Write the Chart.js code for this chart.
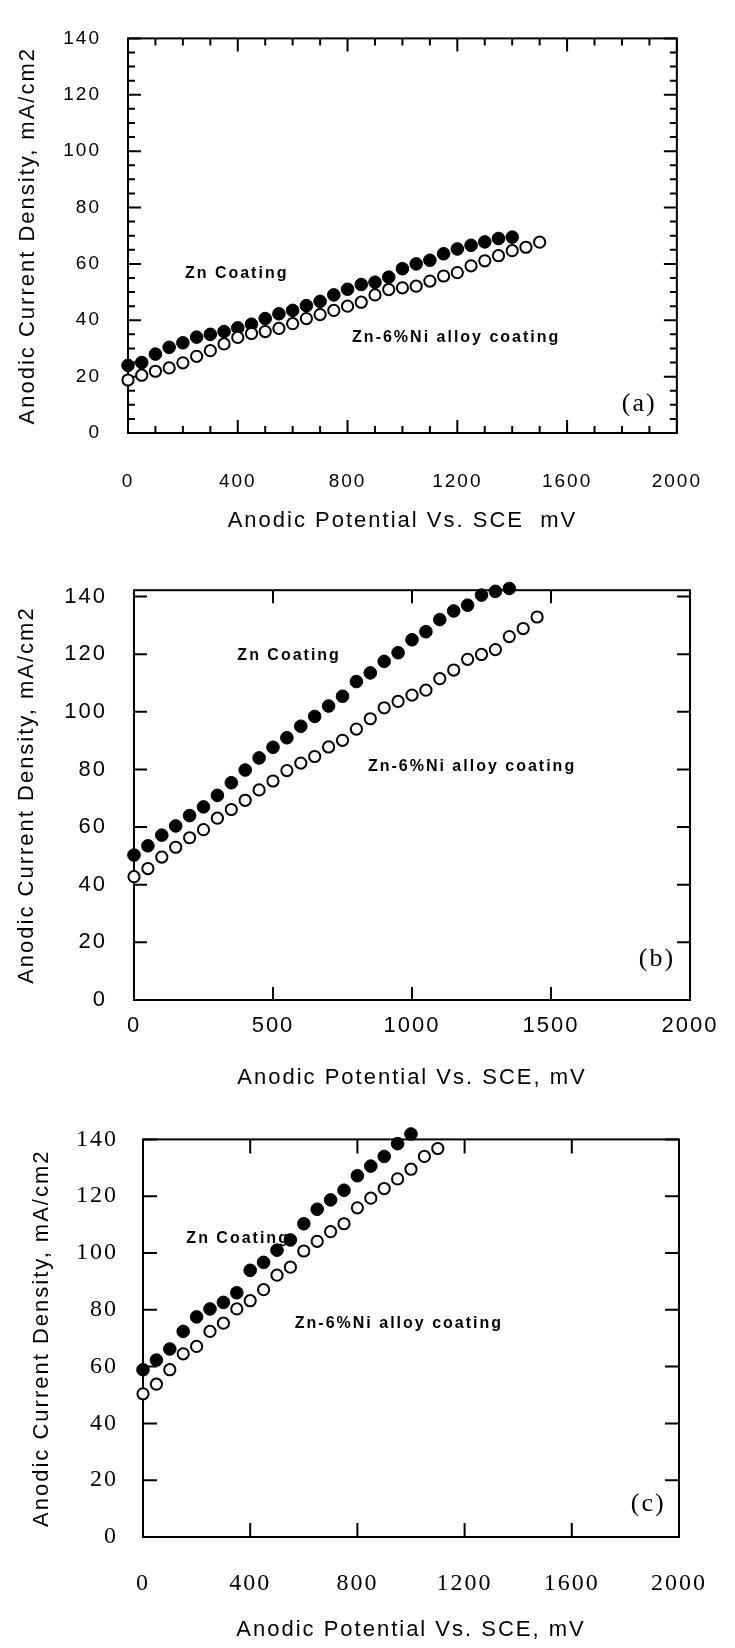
<!DOCTYPE html>
<html>
<head>
<meta charset="utf-8">
<script src="https://cdn.jsdelivr.net/npm/chart.js@4.4.1/dist/chart.umd.min.js"></script>
<style>
  html, body { margin: 0; padding: 0; background: #fff; }
  body { width: 735px; height: 1648px; position: relative; overflow: hidden; }
  .panel { position: absolute; left: 0; width: 735px; }
  canvas { display: block; }
</style>
</head>
<body>
<div class="panel" style="top:0;height:550px"><canvas id="chartA" width="735" height="550"></canvas></div>
<div class="panel" style="top:550px;height:550px"><canvas id="chartB" width="735" height="550"></canvas></div>
<div class="panel" style="top:1100px;height:548px"><canvas id="chartC" width="735" height="548"></canvas></div>
<script>
// ---- Panel (a) ----
const potentialA_zn = [0, 50, 100, 150, 200, 250, 300, 350, 400, 450, 500, 550, 600, 650, 700,
  750, 800, 850, 900, 950, 1000, 1050, 1100, 1150, 1200, 1250, 1300, 1350, 1400];
const currentA_zn = [24, 25, 28, 30.4, 32, 34, 35, 36, 37.3, 38.6, 40.6, 42.3, 43.5, 45.2, 46.7,
  49, 51, 52.7, 53.5, 55.3, 58.3, 60, 61.3, 63.6, 65.3, 66.6, 67.8, 69, 69.5];
const potentialA_ni = [0, 50, 100, 150, 200, 250, 300, 350, 400, 450, 500, 550, 600, 650, 700,
  750, 800, 850, 900, 950, 1000, 1050, 1100, 1150, 1200, 1250, 1300, 1350, 1400, 1450, 1500];
const currentA_ni = [18.8, 20.5, 21.9, 23.1, 24.9, 27.2, 29.2, 31.6, 33.9, 35.3, 36, 37.1, 38.8, 40.6, 42,
  43.5, 45, 46.4, 49, 50.9, 51.5, 52.1, 53.9, 55.7, 56.9, 59.3, 61.1, 62.9, 64.7, 65.9, 67.7];
const xTicksA = [0, 400, 800, 1200, 1600, 2000];

// ---- Panel (b) ----
const potentialB_zn = [0, 50, 100, 150, 200, 250, 300, 350, 400, 450, 500, 550, 600, 650,
  700, 750, 800, 850, 900, 950, 1000, 1050, 1100, 1150, 1200, 1250, 1300, 1350];
const currentB_zn = [50.3, 53.5, 57.2, 60.4, 64, 67, 71, 75.4, 79.8, 84, 87.7, 91, 95, 98.4,
  102, 105.4, 110.5, 113.5, 117.5, 120.5, 125, 127.8, 132, 135, 137, 140.5, 141.8, 142.8];
const potentialB_ni = [0, 50, 100, 150, 200, 250, 300, 350, 400, 450, 500, 550, 600, 650, 700,
  750, 800, 850, 900, 950, 1000, 1050, 1100, 1150, 1200, 1250, 1300, 1350, 1400, 1450];
const currentB_ni = [42.8, 45.6, 49.6, 53, 56.3, 59.1, 63.1, 66.1, 69.3, 72.9, 76, 79.6, 82.2, 84.5, 87.8,
  90.1, 94, 97.6, 101.4, 103.6, 105.8, 107.5, 111.5, 114.5, 118.2, 119.9, 121.6, 126.1, 128.9, 132.9];
const xTicksB = [0, 500, 1000, 1500, 2000];

// ---- Panel (c) ----
const potentialC_zn = [0, 50, 100, 150, 200, 250, 300, 350, 400, 450, 500,
  550, 600, 650, 700, 750, 800, 850, 900, 950, 1000];
const currentC_zn = [58.9, 62.3, 66.2, 72.4, 77.5, 80.3, 82.6, 86, 93.9, 96.7, 101,
  104.6, 110.3, 115.4, 118.7, 122.1, 127.2, 130.6, 134, 138.5, 141.9];
const potentialC_ni = [0, 50, 100, 150, 200, 250, 300, 350, 400, 450, 500, 550,
  600, 650, 700, 750, 800, 850, 900, 950, 1000, 1050, 1100];
const currentC_ni = [50.4, 53.8, 58.9, 64.5, 67.1, 72.4, 75.3, 80.3, 83.2, 87.1, 92.2, 95,
  100.7, 104.1, 107.5, 110.3, 115.9, 119.3, 122.7, 126.1, 129.5, 134, 136.8];
const xTicksC = [0, 400, 800, 1200, 1600, 2000];

const yTicks = [0, 20, 40, 60, 80, 100, 120, 140];
const seriesNames = ['Zn Coating', 'Zn-6%Ni alloy coating'];
const panelTags = ['(a)', '(b)', '(c)'];
const yTitle = 'Anodic Current Density, mA/cm2';
const xTitles = ['Anodic Potential Vs. SCE  mV', 'Anodic Potential Vs. SCE, mV', 'Anodic Potential Vs. SCE, mV'];

const SANS = '"Liberation Sans", Arial, Helvetica, sans-serif';
const SERIF = '"Liberation Serif", "Times New Roman", serif';

const zip = (xs, ys) => xs.map((x, i) => ({ x, y: ys[i] }));

// Slightly widened lettering, like the typewriter-era figure text.
const spacingPlugin = {
  id: 'spacing',
  beforeDraw(chart) { chart.ctx.letterSpacing = '2px'; },
  afterDraw(chart) { chart.ctx.letterSpacing = '0px'; }
};

// Box frame, inward tick marks and the in-plot labels.
const decorPlugin = {
  id: 'panelDecor',
  beforeDatasetsDraw(chart, args, opts) {
    const { ctx, chartArea: a } = chart;
    const xs = chart.scales.x, ys = chart.scales.y;
    ctx.save();
    ctx.strokeStyle = '#000';
    ctx.lineWidth = opts.frameWidth;
    ctx.strokeRect(a.left, a.top, a.right - a.left, a.bottom - a.top);

    ctx.lineWidth = opts.tickWidth;
    ctx.beginPath();
    const xMark = (px, len) => {
      ctx.moveTo(px, a.bottom); ctx.lineTo(px, a.bottom - len);
      ctx.moveTo(px, a.top); ctx.lineTo(px, a.top + len);
    };
    const yMark = (py, len) => {
      ctx.moveTo(a.left, py); ctx.lineTo(a.left + len, py);
      ctx.moveTo(a.right, py); ctx.lineTo(a.right - len, py);
    };
    xs.ticks.forEach(t => xMark(xs.getPixelForValue(t.value), opts.majorLen));
    ys.ticks.forEach(t => yMark(ys.getPixelForValue(t.value), opts.majorLen));
    if (opts.minorX) {
      for (let v = xs.min; v <= xs.max; v += opts.minorX) xMark(xs.getPixelForValue(v), opts.minorLen);
    }
    if (opts.minorY) {
      for (let v = 0; v <= 140; v += opts.minorY) yMark(ys.getPixelForValue(v), opts.minorLen);
    }
    ctx.stroke();

    ctx.fillStyle = '#000';
    ctx.textAlign = 'center';
    ctx.textBaseline = 'middle';
    opts.notes.forEach(n => {
      ctx.font = n.font;
      ctx.fillText(n.text, xs.getPixelForValue(n.x), ys.getPixelForValue(n.y));
    });
    ctx.restore();
  }
};

function makePanel(id, p) {
  return new Chart(document.getElementById(id), {
    type: 'scatter',
    data: {
      datasets: [
        {
          label: seriesNames[0], data: zip(p.znX, p.znY),
          pointRadius: 6.3, pointBackgroundColor: '#000', pointBorderColor: '#000', pointBorderWidth: 1,
          order: 2, clip: false
        },
        {
          label: seriesNames[1], data: zip(p.niX, p.niY),
          pointRadius: 5.6, pointBackgroundColor: '#fff', pointBorderColor: '#000', pointBorderWidth: 2,
          order: 1, clip: false
        }
      ]
    },
    options: {
      responsive: false,
      animation: false,
      devicePixelRatio: 1,
      layout: { padding: p.padding },
      plugins: {
        legend: { display: false },
        tooltip: { enabled: false },
        panelDecor: p.decor
      },
      scales: {
        x: {
          type: 'linear', min: 0, max: 2000,
          grid: { display: false, drawTicks: false },
          border: { display: false },
          afterBuildTicks: s => { s.ticks = p.xTicks.map(v => ({ value: v })); },
          afterFit: s => { s.height = p.xHeight; },
          ticks: { color: '#000', font: p.tickFont, padding: p.xPad, maxRotation: 0, autoSkip: false,
                   callback: v => String(v) },
          title: { display: true, text: p.xTitle, color: '#000', font: { family: SANS, size: 22 },
                   padding: { top: 0, bottom: p.xTitlePad } }
        },
        y: {
          type: 'linear', min: 0, max: p.yMax,
          grid: { display: false, drawTicks: false },
          border: { display: false },
          afterBuildTicks: s => { s.ticks = yTicks.map(v => ({ value: v })); },
          afterFit: s => { s.width = p.yWidth; },
          ticks: { color: '#000', font: p.tickFont, padding: p.yPad, callback: v => String(v) },
          title: { display: true, text: yTitle, color: '#000', font: { family: SANS, size: 22 },
                   padding: { top: p.yTitlePad, bottom: 0 } }
        }
      }
    },
    plugins: [spacingPlugin, decorPlugin]
  });
}

const noteFont = 'bold 16px ' + SANS;
const tagFont = '26px ' + SERIF;

makePanel('chartA', {
  znX: potentialA_zn, znY: currentA_zn, niX: potentialA_ni, niY: currentA_ni,
  xTicks: xTicksA, xTitle: xTitles[0], yMax: 140,
  padding: { top: 15, right: 52, left: 0, bottom: 0 },
  yWidth: 128, xHeight: 117,
  tickFont: { family: SANS, size: 19 }, xPad: 37, yPad: 27,
  yTitlePad: 15, xTitlePad: 16,
  decor: {
    frameWidth: 2, tickWidth: 2, majorLen: 13, minorLen: 7, minorX: 100, minorY: 5,
    notes: [
      { text: seriesNames[0], x: 396, y: 56.6, font: noteFont },
      { text: seriesNames[1], x: 1196, y: 33.8, font: noteFont },
      { text: panelTags[0], x: 1863, y: 10.4, font: tagFont }
    ]
  }
});

makePanel('chartB', {
  znX: potentialB_zn, znY: currentB_zn, niX: potentialB_ni, niY: currentB_ni,
  xTicks: xTicksB, xTitle: xTitles[1], yMax: 142.2,
  padding: { top: 29, right: 45, left: 0, bottom: 0 },
  yWidth: 134, xHeight: 100,
  tickFont: { family: SANS, size: 22 }, xPad: 13, yPad: 27,
  yTitlePad: 14, xTitlePad: 9,
  decor: {
    frameWidth: 2, tickWidth: 2, majorLen: 13, minorLen: 0, minorX: 0, minorY: 0,
    notes: [
      { text: seriesNames[0], x: 558, y: 119.6, font: noteFont },
      { text: seriesNames[1], x: 1216, y: 81, font: noteFont },
      { text: panelTags[1], x: 1881, y: 14.2, font: tagFont }
    ]
  }
});

makePanel('chartC', {
  znX: potentialC_zn, znY: currentC_zn, niX: potentialC_ni, niY: currentC_ni,
  xTicks: xTicksC, xTitle: xTitles[2], yMax: 140,
  padding: { top: 24, right: 35, left: 0, bottom: 0 },
  yWidth: 143, xHeight: 111,
  tickFont: { family: SERIF, size: 24 }, xPad: 32, yPad: 25,
  yTitlePad: 29, xTitlePad: 5,
  decor: {
    frameWidth: 2, tickWidth: 2, majorLen: 14, minorLen: 0, minorX: 0, minorY: 0,
    notes: [
      { text: seriesNames[0], x: 355, y: 105.1, font: noteFont },
      { text: seriesNames[1], x: 955, y: 75.3, font: noteFont },
      { text: panelTags[2], x: 1885, y: 11.5, font: tagFont }
    ]
  }
});
</script>
</body>
</html>
